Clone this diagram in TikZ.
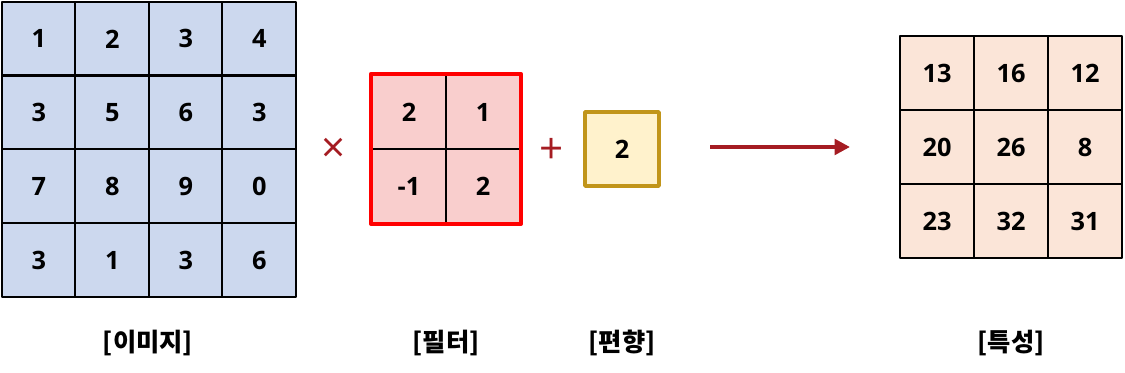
\documentclass[tikz,border=0pt]{standalone}
\usepackage{fontspec}
\setmainfont{Noto Sans CJK KR}
\newfontfamily\numfont{Open Sans}
\usetikzlibrary{arrows.meta}
\definecolor{imgfill}{HTML}{CCD8EE}
\definecolor{fltfill}{HTML}{F9CECD}
\definecolor{fltline}{HTML}{FF0000}
\definecolor{biasfill}{HTML}{FFF2CC}
\definecolor{biasline}{HTML}{C1951A}
\definecolor{featfill}{HTML}{FBE5D8}
\definecolor{oprred}{HTML}{A51C22}
\tikzset{
  cell/.style={draw=black,line width=1.6pt,minimum size=1.85cm,inner sep=0pt,
    font=\numfont\fontsize{18}{21}\selectfont\bfseries},
  imgcell/.style={cell,fill=imgfill},
  fltcell/.style={cell,fill=fltfill},
  featcell/.style={cell,fill=featfill},
  biascell/.style={cell,draw=biasline,line width=2.6pt,fill=biasfill},
  opsym/.style={text=oprred,font=\numfont\fontsize{30}{32}\selectfont,inner sep=0pt},
  caption/.style={font=\fontsize{18}{21}\selectfont\bfseries,inner sep=0pt}
}
\begin{document}
\begin{tikzpicture}[x=0.025cm,y=-0.025cm,line cap=round,line join=round]
  \useasboundingbox (0,0) rectangle (1125,373);
  % input image 4x4
  \foreach \row [count=\r] in {{1,2,3,4},{3,5,6,3},{7,8,9,0},{3,1,3,6}}{
    \foreach \v [count=\c] in \row{
      \node[imgcell] (img-\r-\c) at ({2+73.5*(\c-.5)},{2+73.75*(\r-.5)}) {\v};
    }
  }
  % filter 2x2
  \foreach \row [count=\r] in {{2,1},{-1,2}}{
    \foreach \v [count=\c] in \row{
      \node[fltcell] (flt-\r-\c) at ({372+74*(\c-.5)},{75+74*(\r-.5)}) {\v};
    }
  }
  \draw[fltline,line width=2.6pt] (flt-1-1.north west) rectangle (flt-2-2.south east);
  % bias
  \node[biascell] (bias) at (622,149) {2};
  % feature map 3x3
  \foreach \row [count=\r] in {{13,16,12},{20,26,8},{23,32,31}}{
    \foreach \v [count=\c] in \row{
      \node[featcell] (feat-\r-\c) at ({900+74*(\c-.5)},{36+74*(\r-.5)}) {\v};
    }
  }
  % operators and arrow
  \node[opsym] (times) at (334,150) {×};
  \node[opsym] (plus) at (552,151) {+};
  \coordinate (arr-start) at (710,147);
  \coordinate (arr-end) at (850,147);
  \draw[oprred,line width=3pt,line cap=butt,-{Triangle[length=11pt,width=11pt]}] (arr-start) -- (arr-end);
  % captions
  \node[caption] (cap-img) at (148,343) {[이미지]};
  \node[caption] (cap-flt) at (446,343) {[필터]};
  \node[caption] (cap-bias) at (622,343) {[편향]};
  \node[caption] (cap-feat) at (1011,343) {[특성]};
\end{tikzpicture}
\end{document}
